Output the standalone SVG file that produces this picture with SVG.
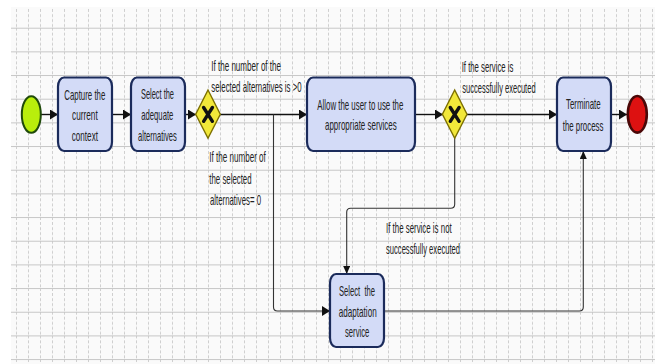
<svg xmlns="http://www.w3.org/2000/svg" width="655" height="364" viewBox="0 0 655 364">
<style>
.task{fill:#d3dbf7;stroke:#1b2b5b;stroke-width:2.2}
.gw{fill:#f2e83a;stroke:#7d7000;stroke-width:1.4}
.gx{stroke:#111;stroke-width:3.4;stroke-linecap:round}
.flow{fill:none;stroke:#111;stroke-width:1.4}
.thin{fill:none;stroke:#333;stroke-width:1.1}
text{font-family:"Liberation Sans",Arial,sans-serif;font-size:14.5px;fill:#222;white-space:pre}
</style>
<defs>
<pattern id="grid" x="4" y="4.03" width="12" height="23.67" patternUnits="userSpaceOnUse">
<line x1="0.5" y1="0" x2="0.5" y2="23.67" stroke="#cfcfcf" stroke-width="1" stroke-dasharray="3 2"/>
<line x1="0" y1="0.5" x2="12" y2="0.5" stroke="#c6c6c6" stroke-width="1"/>
</pattern>
<marker id="ah" viewBox="0 0 8 10" refX="8" refY="5" markerWidth="8" markerHeight="10" markerUnits="userSpaceOnUse" orient="auto"><path d="M0,0 L8,5 L0,10 z" fill="#111"/></marker>
<marker id="av" viewBox="0 0 8 7" refX="8" refY="3.5" markerWidth="8" markerHeight="7" markerUnits="userSpaceOnUse" orient="auto"><path d="M0,0 L8,3.5 L0,7 z" fill="#111"/></marker>
</defs>
<rect x="0" y="0" width="655" height="364" fill="#ffffff"/>
<rect x="11" y="7" width="644" height="357" fill="#fafafa"/>
<rect x="11" y="7" width="644" height="357" fill="url(#grid)"/>

<g id="connectors">
<path class="flow" d="M41 114.5 H58" marker-end="url(#ah)"/>
<path class="flow" d="M112 114.5 H131" marker-end="url(#ah)"/>
<path class="flow" d="M185 114.5 H196" marker-end="url(#ah)"/>
<path class="flow" d="M220 114.5 H307" marker-end="url(#ah)"/>
<path class="flow" d="M415 114.5 H443" marker-end="url(#ah)"/>
<path class="flow" d="M467 114.5 H557" marker-end="url(#ah)"/>
<path class="flow" d="M611 114.5 H627" marker-end="url(#ah)"/>
<path class="thin" d="M273.5 114.5 V307 Q273.5 311 277.5 311 H330" marker-end="url(#ah)"/>
<path class="thin" d="M454.7 138 V204.3 Q454.7 208.3 450.7 208.3 H350.7 Q346.7 208.3 346.7 212.3 V274" marker-end="url(#av)"/>
<path class="thin" d="M384 311 H579.3 Q583.3 311 583.3 307 V151" marker-end="url(#av)"/>
</g>

<g id="start"><ellipse cx="31.3" cy="114.5" rx="9.5" ry="18.3" fill="#b9ee0c" stroke="#1f4a0a" stroke-width="2"/></g>

<g id="capture">
<rect class="task" x="58" y="77.5" width="54" height="73.5" rx="6" ry="9"/>
<text x="64.3" y="99.5" textLength="41" lengthAdjust="spacingAndGlyphs">Capture the</text>
<text x="72" y="120" textLength="25.7" lengthAdjust="spacingAndGlyphs">current</text>
<text x="71.7" y="140.5" textLength="26.3" lengthAdjust="spacingAndGlyphs">context</text>
</g>

<g id="select-alternatives">
<rect class="task" x="131" y="77.5" width="54" height="73.5" rx="6" ry="9"/>
<text x="141" y="99" textLength="33" lengthAdjust="spacingAndGlyphs">Select the</text>
<text x="141.3" y="120" textLength="32" lengthAdjust="spacingAndGlyphs">adequate</text>
<text x="138" y="141" textLength="38.7" lengthAdjust="spacingAndGlyphs">alternatives</text>
</g>

<g id="gateway1">
<path class="gw" d="M208 90 L220.3 114.3 L208 138.3 L195.7 114.3 Z"/>
<path class="gx" d="M203.6 107.5 L212.4 121.3 M212.4 107.5 L203.6 121.3"/>
</g>

<g id="allow">
<rect class="task" x="307" y="77.5" width="108" height="73.5" rx="6" ry="9"/>
<text x="317.3" y="110" textLength="86" lengthAdjust="spacingAndGlyphs">Allow the user to use the</text>
<text x="325" y="130" textLength="71.7" lengthAdjust="spacingAndGlyphs">appropriate services</text>
</g>

<g id="gateway2">
<path class="gw" d="M454.7 90 L467 114.3 L454.7 138.3 L442.4 114.3 Z"/>
<path class="gx" d="M450.3 107.5 L459.1 121.3 M459.1 107.5 L450.3 121.3"/>
</g>

<g id="terminate">
<rect class="task" x="557" y="77.5" width="54" height="73.5" rx="6" ry="9"/>
<text x="566" y="109" textLength="34.7" lengthAdjust="spacingAndGlyphs">Terminate</text>
<text x="562.7" y="130.5" textLength="40.7" lengthAdjust="spacingAndGlyphs">the process</text>
</g>

<g id="end"><ellipse cx="637.3" cy="114.3" rx="9.5" ry="18.3" fill="#dd1111" stroke="#4a0808" stroke-width="2.6"/></g>

<g id="adaptation">
<rect class="task" x="330" y="274" width="54" height="73" rx="6" ry="9"/>
<text x="339" y="295.5" textLength="36" lengthAdjust="spacingAndGlyphs">Select  the</text>
<text x="338.7" y="316.5" textLength="38" lengthAdjust="spacingAndGlyphs">adaptation</text>
<text x="345" y="336.5" textLength="24.3" lengthAdjust="spacingAndGlyphs">service</text>
</g>

<g id="labels">
<text x="211.3" y="71" textLength="69.7" lengthAdjust="spacingAndGlyphs">If the number of the</text>
<text x="211.3" y="91.5" textLength="90.3" lengthAdjust="spacingAndGlyphs">selected alternatives is &gt;0</text>
<text x="209.3" y="161.5" textLength="56.5" lengthAdjust="spacingAndGlyphs">If the number of</text>
<text x="209.3" y="184" textLength="42.3" lengthAdjust="spacingAndGlyphs">the selected</text>
<text x="210" y="205" textLength="51" lengthAdjust="spacingAndGlyphs">alternatives= 0</text>
<text x="461.7" y="71.5" textLength="51.7" lengthAdjust="spacingAndGlyphs">If the service is</text>
<text x="462.3" y="92.5" textLength="73.3" lengthAdjust="spacingAndGlyphs">successfully executed</text>
<text x="386" y="232.5" textLength="65.7" lengthAdjust="spacingAndGlyphs">If the service is not</text>
<text x="386" y="253.5" textLength="74" lengthAdjust="spacingAndGlyphs">successfully executed</text>
</g>
</svg>
